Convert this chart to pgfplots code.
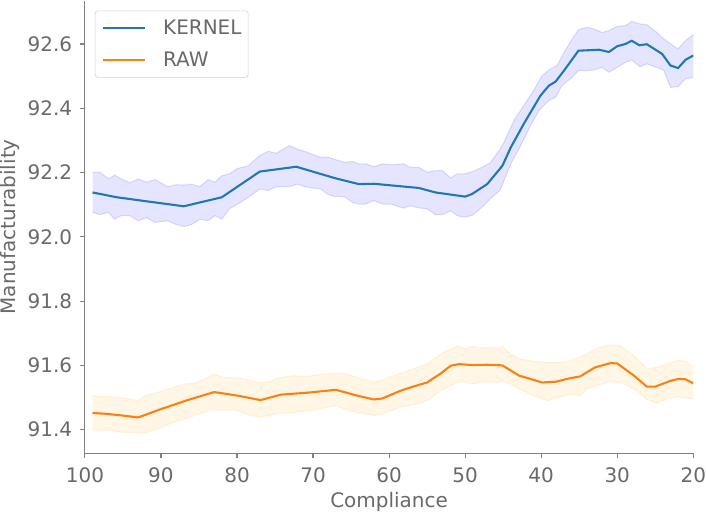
\documentclass[border=0pt]{standalone}
\usepackage{fontspec}
\setmainfont{DejaVu Sans}
\usepackage{pgfplots}
\pgfplotsset{compat=1.18}
\usepgfplotslibrary{fillbetween}
\definecolor{tabblue}{RGB}{31,119,180}
\definecolor{taborange}{RGB}{255,127,14}
\definecolor{bandblue}{RGB}{0,0,255}
\definecolor{bandorange}{RGB}{255,165,0}
\definecolor{txtgray}{RGB}{105,105,105}
\definecolor{spinegray}{RGB}{128,128,128}
\newcommand{\fs}{\fontsize{14.4}{17.28}\selectfont}
\begin{document}
\begin{tikzpicture}
\begin{axis}[
  scale only axis,
  width=438.5pt, height=326.2pt,
  x dir=reverse,
  xmin=20, xmax=100,
  ymin=91.327, ymax=92.735,
  xtick={100,90,80,70,60,50,40,30,20},
  ytick={91.4,91.6,91.8,92.0,92.2,92.4,92.6},
  axis x line*=bottom, axis y line*=left,
  axis line style={-, draw=spinegray, line width=0.8pt},
  tick style={draw=spinegray, line width=0.8pt},
  major tick length=3.5pt,
  tick align=outside,
  /pgf/number format/assume math mode=true,
  yticklabel style={/pgf/number format/.cd, fixed, fixed zerofill, precision=1, /tikz/.cd, inner sep=0pt, xshift=-5.5pt},
  xticklabel style={inner sep=0pt, yshift=-7pt},
  ticklabel style={font=\fs, text=txtgray},
  xlabel={Compliance}, ylabel={Manufacturability},
  label style={font=\fs, text=txtgray, inner sep=0pt},
  xlabel style={yshift=-6.8pt},
  ylabel style={yshift=5.8pt},
  legend style={at={(0.0164,0.978)}, anchor=north west, font=\fs, text=txtgray,
    draw=black!18, rounded corners=2pt, inner xsep=4.8pt, inner ysep=6.5pt, row sep=11pt,
    nodes={inner sep=0pt}, cells={anchor=west},
    /tikz/every odd column/.append style={column sep=12pt}},
  legend image code/.code={\draw[#1] (0pt,0pt) -- (30.7pt,0pt);},
  legend cell align=left,
]
% KERNEL band
\addplot[name path=ku, draw=bandblue, draw opacity=0.12, line width=0.75pt, forget plot] table {
99.0 92.201
98.0 92.201
96.9 92.180
96.1 92.192
95.2 92.180
94.1 92.168
93.0 92.180
91.9 92.170
90.8 92.178
89.1 92.156
88.0 92.162
86.9 92.161
86.0 92.164
84.9 92.156
83.8 92.178
82.9 92.170
82.0 92.190
81.0 92.196
79.9 92.213
78.5 92.221
77.0 92.253
75.9 92.266
74.8 92.260
73.1 92.284
72.1 92.273
70.8 92.263
69.0 92.247
68.1 92.249
67.3 92.242
65.9 92.232
64.8 92.234
64.0 92.227
63.1 92.227
62.0 92.218
60.9 92.227
59.8 92.224
58.1 92.227
57.2 92.216
56.1 92.216
55.0 92.201
53.9 92.206
53.0 92.206
51.9 92.183
51.05 92.196
50.0 92.196
48.9 92.204
47.8 92.216
46.7 92.230
45.4 92.273
44.9 92.294
43.6 92.361
42.3 92.408
41.0 92.455
39.9 92.501
38.8 92.522
37.9 92.533
37.0 92.574
35.9 92.616
35.1 92.644
34.0 92.652
33.1 92.647
32.0 92.636
31.1 92.641
30.0 92.655
28.9 92.657
28.1 92.670
27.0 92.662
26.1 92.660
24.8 92.636
23.9 92.616
23.0 92.600
22.0 92.584
21.05 92.610
20.0 92.629
};
\addplot[name path=kl, draw=bandblue, draw opacity=0.12, line width=0.75pt, forget plot] table {
99.0 92.076
98.0 92.069
96.9 92.076
96.1 92.055
95.2 92.066
94.1 92.066
93.0 92.050
91.9 92.059
90.8 92.045
89.1 92.050
88.0 92.038
86.9 92.032
86.0 92.038
84.9 92.055
83.8 92.050
82.9 92.066
82.0 92.055
81.0 92.087
79.9 92.102
78.5 92.123
77.0 92.149
75.9 92.144
74.8 92.156
73.1 92.156
72.1 92.164
70.8 92.154
69.0 92.149
68.1 92.133
67.3 92.126
65.9 92.125
64.8 92.107
64.0 92.102
63.1 92.102
62.0 92.113
60.9 92.102
59.8 92.102
58.1 92.089
57.2 92.097
56.1 92.090
55.0 92.087
53.9 92.069
53.0 92.069
51.9 92.081
51.05 92.066
50.2 92.061
49.1 92.066
47.8 92.092
46.7 92.118
45.4 92.145
44.0 92.227
42.7 92.284
41.4 92.346
40.3 92.393
39.0 92.424
38.1 92.434
37.3 92.470
36.2 92.491
35.1 92.517
34.0 92.517
33.1 92.519
32.0 92.527
31.1 92.512
30.0 92.527
28.9 92.543
28.1 92.550
27.0 92.529
26.1 92.538
24.8 92.527
23.9 92.519
23.0 92.465
22.0 92.467
21.05 92.491
20.0 92.496
};
\addplot[fill=bandblue, fill opacity=0.1, draw=none, forget plot] fill between[of=ku and kl];
% RAW band
\addplot[name path=ru, draw=bandorange, draw opacity=0.12, line width=0.75pt, forget plot] table {
99.0 91.506
97.0 91.503
95.05 91.499
93.0 91.490
92.0 91.506
90.0 91.519
88.3 91.532
86.95 91.542
85.6 91.544
83.9 91.561
83.0 91.573
81.9 91.563
79.95 91.561
78.6 91.555
76.9 91.545
75.6 91.550
74.7 91.561
72.5 91.568
70.75 91.565
69.9 91.570
67.0 91.576
65.9 91.575
64.2 91.563
62.0 91.547
60.9 91.555
58.5 91.575
56.3 91.594
55.0 91.604
54.1 91.620
52.8 91.641
51.05 91.661
49.95 91.651
49.1 91.658
48.0 91.654
46.9 91.656
45.8 91.653
45.1 91.659
44.0 91.635
42.9 91.620
41.0 91.613
39.2 91.609
37.0 91.609
35.9 91.617
34.85 91.627
34.0 91.635
32.7 91.653
30.9 91.664
29.6 91.661
27.8 91.630
26.1 91.589
24.8 91.594
23.5 91.604
22.2 91.615
21.06 91.613
20.0 91.596
};
\addplot[name path=rl, draw=bandorange, draw opacity=0.12, line width=0.75pt, forget plot] table {
99.0 91.399
97.0 91.399
95.05 91.392
93.0 91.390
92.0 91.390
90.0 91.407
88.3 91.423
86.5 91.436
85.6 91.444
83.9 91.457
83.0 91.464
81.9 91.461
79.95 91.461
78.6 91.447
76.9 91.438
75.6 91.446
74.7 91.451
72.5 91.453
70.75 91.459
69.9 91.461
67.0 91.475
65.9 91.464
64.2 91.454
62.0 91.444
60.9 91.449
58.5 91.470
56.3 91.480
55.0 91.490
54.1 91.506
52.8 91.527
51.05 91.547
49.95 91.549
49.1 91.542
48.0 91.547
46.9 91.549
45.8 91.547
45.1 91.552
44.0 91.542
42.9 91.527
41.0 91.506
39.2 91.490
37.0 91.506
35.9 91.511
34.85 91.506
34.0 91.527
32.7 91.537
30.9 91.550
29.6 91.547
27.8 91.527
26.1 91.495
24.8 91.482
23.5 91.495
22.2 91.503
21.06 91.499
20.0 91.495
};
\addplot[fill=bandorange, fill opacity=0.1, draw=none, forget plot] fill between[of=ru and rl];
% KERNEL mean
\addplot[tabblue, line width=1.5pt] table {
99.0 92.138
95.8 92.123
93.0 92.114
87.0 92.095
82.0 92.123
77.0 92.203
72.2 92.218
67.2 92.183
64.0 92.164
62.0 92.165
56.1 92.152
53.9 92.138
50.0 92.125
49.1 92.133
47.1 92.164
45.1 92.221
44.0 92.278
42.3 92.351
40.1 92.439
39.0 92.470
38.1 92.483
37.0 92.517
35.1 92.579
32.4 92.582
31.1 92.575
30.0 92.593
28.9 92.600
28.1 92.610
27.1 92.596
26.1 92.599
24.1 92.569
23.0 92.533
22.0 92.525
21.0 92.551
20.0 92.564
};
\addlegendentry{KERNEL}
% RAW mean
\addplot[taborange, line width=1.5pt] table {
99.0 91.452
97.0 91.449
95.05 91.444
93.0 91.438
90.0 91.464
86.5 91.492
83.0 91.517
79.95 91.506
76.9 91.492
74.25 91.509
70.75 91.515
67.0 91.524
64.2 91.506
62.0 91.494
60.9 91.497
58.5 91.521
56.7 91.535
55.0 91.547
53.2 91.575
51.9 91.599
50.8 91.604
49.1 91.601
47.1 91.602
45.1 91.600
42.9 91.568
41.85 91.561
39.9 91.547
38.1 91.549
36.6 91.558
34.85 91.566
32.9 91.594
30.9 91.607
30.0 91.606
27.8 91.568
26.1 91.534
25.0 91.534
23.0 91.552
21.9 91.558
21.06 91.557
20.0 91.544
};
\addlegendentry{RAW}
\end{axis}
\end{tikzpicture}
\end{document}
